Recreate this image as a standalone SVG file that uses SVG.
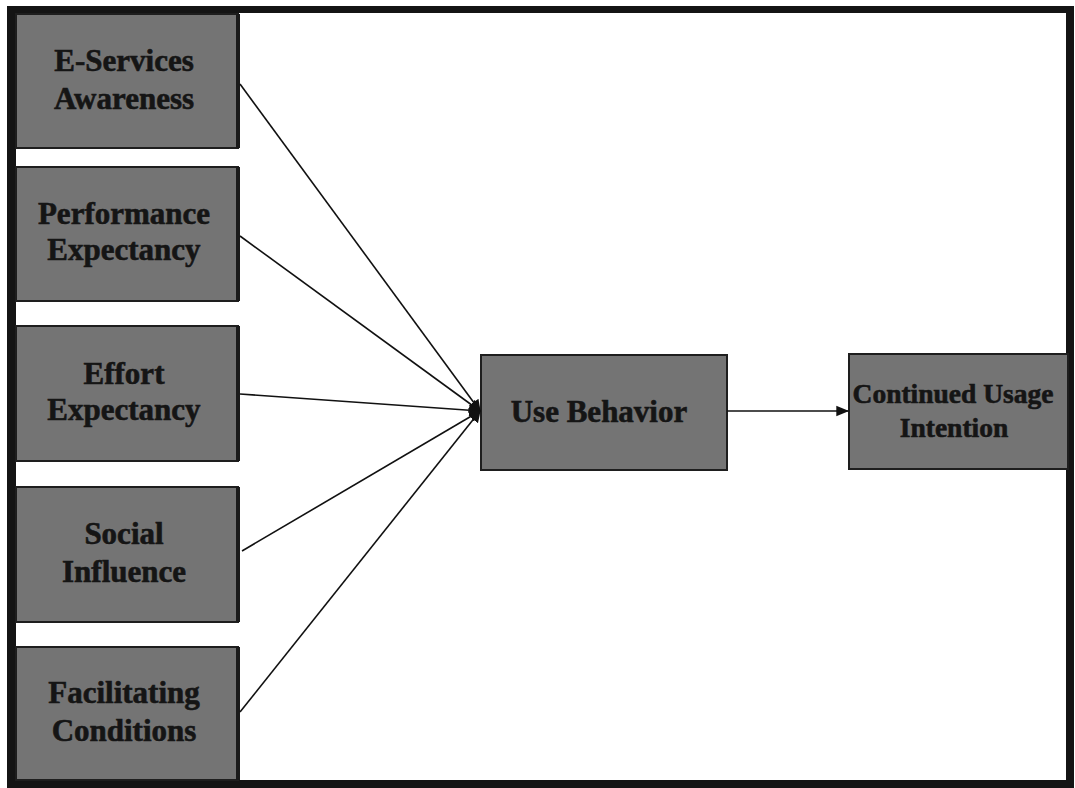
<svg xmlns="http://www.w3.org/2000/svg" width="1075" height="788" viewBox="0 0 1075 788">
<defs>
<style>
.box{fill:#747474;stroke:#1e1e1e;stroke-width:2}
.edge{fill:#1a1a1a}
.t{font-family:"Liberation Serif","Times New Roman",serif;font-weight:bold;fill:#151515;stroke:#151515;stroke-width:0.6;text-anchor:middle}
.c{stroke:#111;stroke-width:1.6;fill:none}
</style>
<marker id="ah" viewBox="0 0 10 10" refX="9" refY="5" markerWidth="12" markerHeight="14" markerUnits="userSpaceOnUse" orient="auto">
<path d="M0,0 L10,5 L0,10 z" fill="#111"/>
</marker>
<marker id="ah2" viewBox="0 0 10 10" refX="9" refY="5" markerWidth="13" markerHeight="13" markerUnits="userSpaceOnUse" orient="auto">
<path d="M0,1 L10,5 L0,9 z" fill="#111"/>
</marker>
</defs>
<rect width="1075" height="788" fill="#fff"/>
<g id="frame">
<rect x="7" y="6" width="1067" height="7" fill="#141414"/>
<rect x="7" y="6" width="9" height="782" fill="#141414"/>
<rect x="1066" y="6" width="8" height="782" fill="#141414"/>
<rect x="7" y="780" width="1067" height="8" fill="#141414"/>
</g>
<g id="n1">
<rect class="box" x="16" y="14" width="222" height="134"/>
<rect class="edge" x="236" y="14" width="4" height="134"/>
<text class="t" x="124" y="71" font-size="31">E-Services</text>
<text class="t" x="124" y="109" font-size="31">Awareness</text>
</g>
<g id="n2">
<rect class="box" x="16" y="167" width="222" height="134"/>
<rect class="edge" x="236" y="167" width="4" height="134"/>
<text class="t" x="124" y="224" font-size="31">Performance</text>
<text class="t" x="124" y="260" font-size="31">Expectancy</text>
</g>
<g id="n3">
<rect class="box" x="16" y="326" width="222" height="135"/>
<rect class="edge" x="236" y="326" width="4" height="135"/>
<text class="t" x="124" y="384" font-size="31">Effort</text>
<text class="t" x="124" y="420" font-size="31">Expectancy</text>
</g>
<g id="n4">
<rect class="box" x="16" y="487" width="222" height="135"/>
<rect class="edge" x="236" y="487" width="4" height="135"/>
<text class="t" x="124" y="544" font-size="31">Social</text>
<text class="t" x="124" y="582" font-size="31">Influence</text>
</g>
<g id="n5">
<rect class="box" x="16" y="647" width="222" height="133"/>
<rect class="edge" x="236" y="647" width="4" height="133"/>
<text class="t" x="124" y="703" font-size="31">Facilitating</text>
<text class="t" x="124" y="741" font-size="31">Conditions</text>
</g>
<g id="n6">
<rect class="box" x="481" y="355" width="246" height="115"/>
<text class="t" x="599" y="422" font-size="31">Use Behavior</text>
</g>
<g id="n7">
<rect class="box" x="849" y="354" width="219" height="115"/>
<text class="t" x="953" y="403" font-size="27.5">Continued Usage</text>
<text class="t" x="954" y="437" font-size="27.5">Intention</text>
</g>
<g id="connectors">
<line class="c" x1="240" y1="84" x2="480" y2="411" marker-end="url(#ah)"/>
<line class="c" x1="240" y1="236" x2="480" y2="411" marker-end="url(#ah)"/>
<line class="c" x1="240" y1="394" x2="480" y2="411" marker-end="url(#ah)"/>
<line class="c" x1="242" y1="551" x2="480" y2="411" marker-end="url(#ah)"/>
<line class="c" x1="240" y1="712" x2="480" y2="411" marker-end="url(#ah)"/>
<line class="c" x1="727" y1="411" x2="848" y2="411" marker-end="url(#ah2)"/>
</g>
</svg>
